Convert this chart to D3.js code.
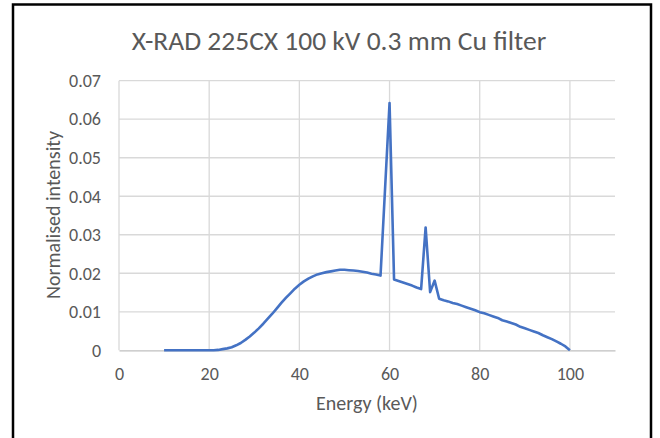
<!DOCTYPE html>
<html lang="en">
<head>
    <script src="https://cdn.jsdelivr.net/npm/d3@7/dist/d3.min.js"></script>
    <style>
        body { margin: 0; background: #fff; }
        text { font-family: Carlito, "Open Sans", sans-serif; fill: #595959; }
    </style>
</head>
<body>
    <svg width="660" height="438"></svg>
    <script>
            // spectrum (keV, normalised intensity)
            var energy = [10, 11, 12, 13, 14, 15, 16, 17, 18, 19, 20, 21, 22, 23, 24, 25, 26, 27, 28, 29,
                30, 31, 32, 33, 34, 35, 36, 37, 38, 39, 40, 41, 42, 43, 44, 45, 46, 47, 48, 49,
                50, 51, 52, 53, 54, 55, 56, 57, 58, 60, 61, 62, 63, 64, 65, 66, 67, 68, 69,
                70, 71, 72, 73, 74, 75, 76, 77, 78, 79, 80, 81, 82, 83, 84, 85, 86, 87, 88, 89,
                90, 91, 92, 93, 94, 95, 96, 97, 98, 99, 100];
            var intensity = [0, 0, 0, 0, 0, 0, 0, 0, 0, 0, 0, 0, 0.0001, 0.0003, 0.0005, 0.0008, 0.0013, 0.0019, 0.0027, 0.0036,
                0.0046, 0.0057, 0.0069, 0.0082, 0.0095, 0.0109, 0.0123, 0.0136, 0.0148, 0.0160,
                0.0170, 0.0179, 0.0186, 0.0192, 0.0197, 0.0200, 0.0203, 0.0205, 0.0207, 0.0209,
                0.0209, 0.0208, 0.0207, 0.0206, 0.0204, 0.0202, 0.0199, 0.0197, 0.0194,
                0.0642, 0.0184, 0.0180, 0.0176, 0.0172, 0.0168, 0.0163, 0.0159, 0.0319, 0.0151,
                0.0181, 0.0134, 0.0130, 0.0127, 0.0123, 0.0120, 0.0116, 0.0112, 0.0108, 0.0104,
                0.0099, 0.0096, 0.0092, 0.0088, 0.0084, 0.0078, 0.0075, 0.0071, 0.0067, 0.0061,
                0.0057, 0.0053, 0.0049, 0.0045, 0.0039, 0.0034, 0.0029, 0.0023, 0.0017, 0.0010, 0];
            var xTicks = [0, 20, 40, 60, 80, 100];
            var yTicks = [0, 0.01, 0.02, 0.03, 0.04, 0.05, 0.06, 0.07];

            var data = energy.map(function(e, i) { return {x: e, y: intensity[i]}; });

            var svg = d3.select("svg");

            // chart frame
            svg.append("rect")
                .attr("x", 13).attr("y", 4.5)
                .attr("width", 638).attr("height", 440)
                .attr("fill", "none")
                .attr("stroke", "#000")
                .attr("stroke-width", 2.5);

            var xScale = d3.scaleLinear().domain([0, 110]).range([119, 615]),
                yScale = d3.scaleLinear().domain([0, 0.07]).range([350.3, 80.7]);

            // gridlines
            var grid = svg.append("g");
            grid.selectAll(".vgrid")
                .data(xTicks)
                .enter().append("line")
                .attr("x1", function(d) { return xScale(d); })
                .attr("x2", function(d) { return xScale(d); })
                .attr("y1", yScale(0.07))
                .attr("y2", yScale(0))
                .attr("stroke", "#d9d9d9")
                .attr("stroke-width", 1.3);
            grid.selectAll(".hgrid")
                .data(yTicks.slice(1))
                .enter().append("line")
                .attr("x1", xScale(0))
                .attr("x2", xScale(110))
                .attr("y1", function(d) { return yScale(d); })
                .attr("y2", function(d) { return yScale(d); })
                .attr("stroke", "#d9d9d9")
                .attr("stroke-width", 1.3);

            // x axis
            var xAxis = svg.append("g")
                .attr("transform", "translate(0," + yScale(0) + ")")
                .call(d3.axisBottom(xScale).tickValues(xTicks).tickSize(0));
            xAxis.select(".domain").attr("stroke", "#bfbfbf").attr("stroke-width", 1.3);
            xAxis.selectAll("text").attr("font-size", "18px").attr("dy", null).attr("y", 30);

            // y axis
            var yAxis = svg.append("g")
                .attr("transform", "translate(" + xScale(0) + ",0)")
                .call(d3.axisLeft(yScale).tickValues(yTicks).tickSize(0).tickPadding(18)
                    .tickFormat(function(d) { return d === 0 ? "0" : d3.format(".2f")(d); }));
            yAxis.select(".domain").remove();
            yAxis.selectAll("text").attr("font-size", "18px");

            svg.selectAll(".tick text").attr("fill", "#595959");
            d3.selectAll("g[font-family]").attr("font-family", null);
            d3.selectAll("g[font-size]").attr("font-size", null);

            // the spectrum
            var line = d3.line()
                .x(function(d) { return xScale(d.x); })
                .y(function(d) { return yScale(d.y); });

            svg.append("path")
                .datum(data)
                .attr("d", line)
                .attr("fill", "none")
                .attr("stroke", "#4472c4")
                .attr("stroke-width", 2.6)
                .attr("stroke-linejoin", "round");

            // titles
            svg.append("text")
                .attr("x", 339).attr("y", 50)
                .attr("text-anchor", "middle")
                .attr("font-size", "27.5px")
                .text("X-RAD 225CX 100 kV 0.3 mm Cu filter");

            svg.append("text")
                .attr("x", 367).attr("y", 410)
                .attr("text-anchor", "middle")
                .attr("font-size", "20px")
                .text("Energy (keV)");

            svg.append("text")
                .attr("transform", "translate(60,215) rotate(-90)")
                .attr("text-anchor", "middle")
                .attr("font-size", "20px")
                .text("Normalised intensity");
    </script>
</body>
</html>
